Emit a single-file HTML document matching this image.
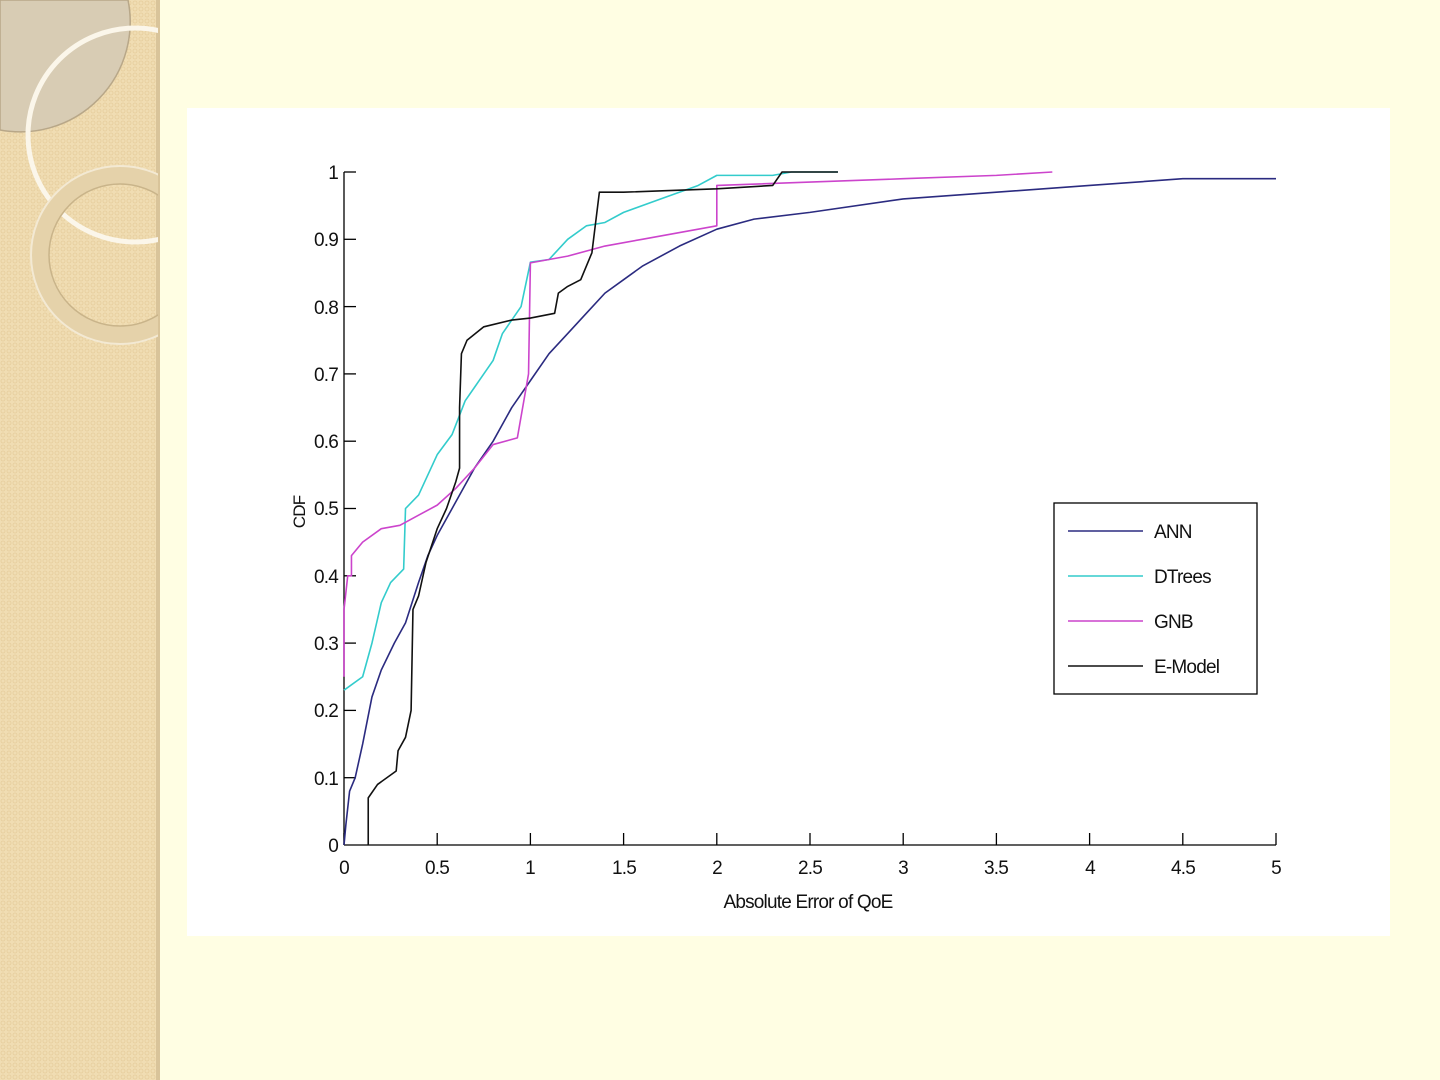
<!DOCTYPE html>
<html><head><meta charset="utf-8"><style>
html,body{margin:0;padding:0;}
body{width:1440px;height:1080px;background:#FFFEE3;position:relative;overflow:hidden;font-family:"Liberation Sans",sans-serif;}
svg text{letter-spacing:-0.8px;}
</style></head><body>
<svg width="1440" height="1080" style="position:absolute;left:0;top:0">
<defs>
<pattern id="dots" width="6" height="6" patternUnits="userSpaceOnUse">
<rect width="6" height="6" fill="#F0DDB3"/><circle cx="3" cy="3" r="2" fill="none" stroke="#E6CD9C" stroke-width="0.8"/>
</pattern>
<clipPath id="lc"><rect x="0" y="0" width="158" height="1080"/></clipPath>
</defs>
<rect x="0" y="0" width="158" height="1080" fill="url(#dots)"/>
<rect x="156" y="0" width="4" height="1080" fill="#D9C49A"/>
<g clip-path="url(#lc)">
<path d="M0,0 L128,0 A110,110 0 0 1 0,130 Z" fill="#D8CCB4" stroke="#B8A788" stroke-width="1.5"/>
<circle cx="135" cy="135" r="107" fill="none" stroke="#FBF6EA" stroke-width="5"/>
<circle cx="120" cy="255" r="80" fill="none" stroke="#E5D2AA" stroke-width="18"/>
<circle cx="120" cy="255" r="89" fill="none" stroke="#F3E9D3" stroke-width="2"/>
<circle cx="120" cy="255" r="71" fill="none" stroke="#C9B48A" stroke-width="1.5"/>
</g>
<rect x="187" y="108" width="1203" height="828" fill="#FFFFFF"/>
<g stroke="#000" stroke-width="1.3" fill="none">
<line x1="344" y1="172" x2="344" y2="845"/>
<line x1="344" y1="845" x2="1276" y2="845"/>
</g>
<g stroke="#000" stroke-width="1.3">
<line x1="344" y1="845" x2="344" y2="833"/><line x1="437.2" y1="845" x2="437.2" y2="833"/>
<line x1="530.4" y1="845" x2="530.4" y2="833"/><line x1="623.6" y1="845" x2="623.6" y2="833"/>
<line x1="716.8" y1="845" x2="716.8" y2="833"/><line x1="810" y1="845" x2="810" y2="833"/>
<line x1="903.2" y1="845" x2="903.2" y2="833"/><line x1="996.4" y1="845" x2="996.4" y2="833"/>
<line x1="1089.6" y1="845" x2="1089.6" y2="833"/><line x1="1182.8" y1="845" x2="1182.8" y2="833"/>
<line x1="1276" y1="845" x2="1276" y2="833"/>
<line x1="344" y1="172" x2="356" y2="172"/><line x1="344" y1="239.3" x2="356" y2="239.3"/>
<line x1="344" y1="306.6" x2="356" y2="306.6"/><line x1="344" y1="373.9" x2="356" y2="373.9"/>
<line x1="344" y1="441.2" x2="356" y2="441.2"/><line x1="344" y1="508.5" x2="356" y2="508.5"/>
<line x1="344" y1="575.8" x2="356" y2="575.8"/><line x1="344" y1="643.1" x2="356" y2="643.1"/>
<line x1="344" y1="710.4" x2="356" y2="710.4"/><line x1="344" y1="777.7" x2="356" y2="777.7"/>
</g>
<g font-size="19" fill="#111" text-anchor="middle">
<text x="344" y="874">0</text><text x="437" y="874">0.5</text><text x="530" y="874">1</text>
<text x="624" y="874">1.5</text><text x="717" y="874">2</text><text x="810" y="874">2.5</text>
<text x="903" y="874">3</text><text x="996" y="874">3.5</text><text x="1090" y="874">4</text>
<text x="1183" y="874">4.5</text><text x="1276" y="874">5</text>
<text x="808" y="908">Absolute Error of QoE</text>
</g>
<g font-size="19" fill="#111" text-anchor="end">
<text x="338" y="179">1</text><text x="338" y="246">0.9</text><text x="338" y="314">0.8</text>
<text x="338" y="381">0.7</text><text x="338" y="448">0.6</text><text x="338" y="515">0.5</text>
<text x="338" y="583">0.4</text><text x="338" y="650">0.3</text><text x="338" y="717">0.2</text>
<text x="338" y="785">0.1</text><text x="338" y="852">0</text>
</g>
<text x="0" y="0" font-size="17" fill="#111" text-anchor="middle" transform="translate(305,512) rotate(-90)">CDF</text>
<g transform="matrix(186.4,0,0,-673,344,845)" fill="none" stroke-width="1.6" stroke-linejoin="round">
<polyline vector-effect="non-scaling-stroke" stroke="#2B2B80" points="0,0 0.01,0.03 0.03,0.08 0.06,0.1 0.1,0.15 0.15,0.22 0.2,0.26 0.27,0.3 0.33,0.33 0.4,0.39 0.45,0.43 0.5,0.46 0.6,0.51 0.7,0.56 0.8,0.6 0.9,0.65 1.0,0.69 1.1,0.73 1.2,0.76 1.3,0.79 1.4,0.82 1.5,0.84 1.6,0.86 1.8,0.89 2.0,0.915 2.2,0.93 2.5,0.94 3,0.96 3.5,0.97 4,0.98 4.5,0.99 5,0.99"/>
<polyline vector-effect="non-scaling-stroke" stroke="#33CCCC" points="0,0.23 0.1,0.25 0.15,0.3 0.2,0.36 0.25,0.39 0.32,0.41 0.33,0.5 0.4,0.52 0.5,0.58 0.58,0.61 0.65,0.66 0.7,0.68 0.8,0.72 0.85,0.76 0.95,0.8 1.0,0.866 1.1,0.87 1.2,0.9 1.3,0.92 1.4,0.925 1.5,0.94 1.7,0.96 1.9,0.98 2.0,0.995 2.3,0.995 2.4,1.0 2.65,1.0"/>
<polyline vector-effect="non-scaling-stroke" stroke="#CC44CC" points="0,0.25 0,0.35 0.02,0.4 0.04,0.4 0.04,0.43 0.1,0.45 0.2,0.47 0.3,0.475 0.4,0.49 0.5,0.505 0.6,0.53 0.7,0.56 0.8,0.595 0.93,0.605 0.99,0.7 1.0,0.865 1.2,0.875 1.4,0.89 1.6,0.9 1.8,0.91 2.0,0.92 2.0,0.98 2.5,0.985 3.0,0.99 3.5,0.995 3.8,1.0"/>
<polyline vector-effect="non-scaling-stroke" stroke="#111111" points="0.13,0 0.13,0.07 0.18,0.09 0.28,0.11 0.29,0.14 0.33,0.16 0.36,0.2 0.37,0.35 0.4,0.37 0.44,0.42 0.5,0.47 0.55,0.5 0.6,0.54 0.62,0.56 0.62,0.65 0.63,0.73 0.66,0.75 0.75,0.77 0.9,0.78 1.0,0.783 1.13,0.79 1.15,0.82 1.2,0.83 1.27,0.84 1.33,0.88 1.37,0.97 1.5,0.97 2.0,0.975 2.3,0.98 2.35,1.0 2.65,1.0"/>
</g>
<rect x="1054" y="503" width="203" height="191" fill="#fff" stroke="#000" stroke-width="1.3"/>
<g stroke-width="1.6">
<line x1="1068" y1="531" x2="1143" y2="531" stroke="#2B2B80"/>
<line x1="1068" y1="576" x2="1143" y2="576" stroke="#33CCCC"/>
<line x1="1068" y1="621" x2="1143" y2="621" stroke="#CC44CC"/>
<line x1="1068" y1="666" x2="1143" y2="666" stroke="#111"/>
</g>
<g font-size="19" fill="#111">
<text x="1154" y="538">ANN</text><text x="1154" y="583">DTrees</text>
<text x="1154" y="628">GNB</text><text x="1154" y="673">E-Model</text>
</g>
</svg>
</body></html>
